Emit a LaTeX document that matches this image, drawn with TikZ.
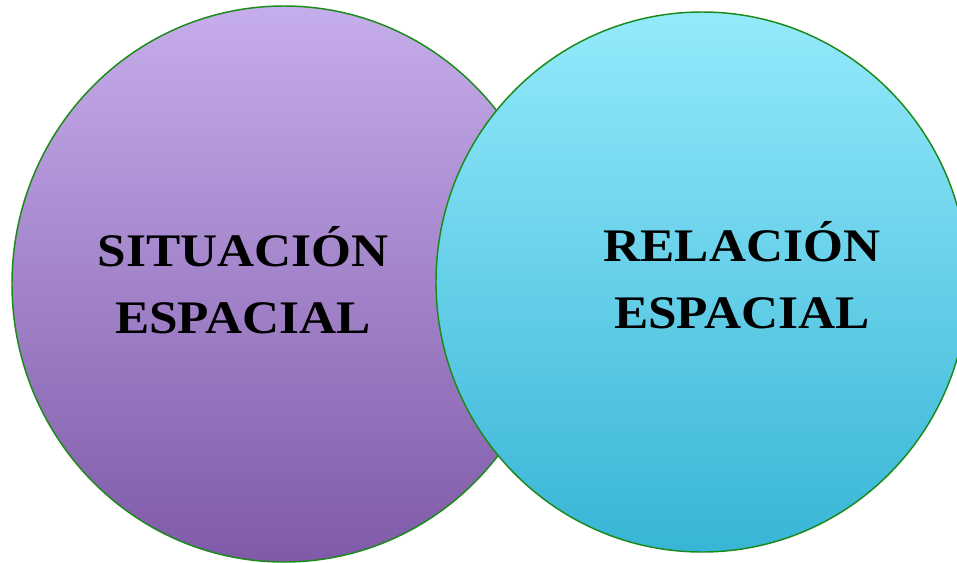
\documentclass[tikz,border=0pt]{standalone}
\usepackage{fontspec}
\setmainfont[FakeStretch=1.1]{Liberation Serif}
\usepackage{tikz}
\definecolor{lilatop}{HTML}{C6ADEB}
\definecolor{lilabot}{HTML}{7F5AA8}
\definecolor{cyantop}{HTML}{94EAFB}
\definecolor{cyanbot}{HTML}{38B5D6}
\definecolor{borde}{HTML}{1A8A1A}
\tikzset{rotulo/.style={font=\fontsize{35}{50}\selectfont\bfseries, align=center, inner sep=0pt, anchor=base}}

\begin{document}
\begin{tikzpicture}[x=0.75pt, y=-0.75pt]
\useasboundingbox (0,0) rectangle (957,562);
%left ellipse
\shade[top color=lilatop, bottom color=lilabot, draw=borde, line width=1.1pt] (284,284) ellipse [x radius=272, y radius=278];
%right ellipse
\shade[top color=cyantop, bottom color=cyanbot, draw=borde, line width=1.1pt] (702,282) ellipse [x radius=266, y radius=270];
%labels
\node[rotulo] (situacion) at (243,333) {SITUACIÓN\\ESPACIAL};
\node[rotulo] (relacion) at (742,328) {RELACIÓN\\ESPACIAL};
\end{tikzpicture}
\end{document}
